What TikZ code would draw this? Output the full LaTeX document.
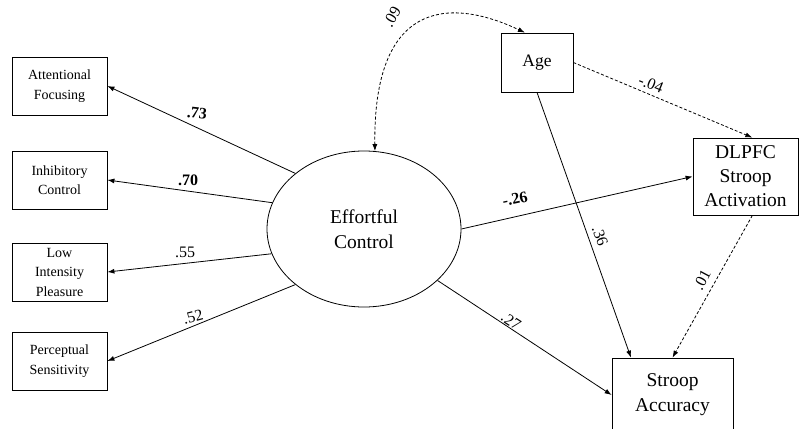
\documentclass[tikz,border=0pt]{standalone}
\usepackage{fontspec}
\setmainfont{Liberation Serif}
\usetikzlibrary{arrows.meta,shapes.geometric}
\begin{document}
\begin{tikzpicture}[x=1pt,y=-1pt,
  smallbox/.style={draw,line width=0.8pt,rectangle,minimum width=95pt,minimum height=58pt,inner sep=0pt,align=center,font=\fontsize{14}{19.5}\selectfont},
  bigbox/.style={draw,line width=0.8pt,rectangle,inner sep=0pt,align=center,font=\fontsize{19.5}{25}\selectfont},
  arr/.style={line width=0.8pt,-{Latex[length=7pt,width=5pt]}},
  dblarr/.style={line width=0.8pt,{Latex[length=7pt,width=5pt]}-{Latex[length=7pt,width=5pt]}},
  dsh/.style={dash pattern=on 3pt off 2pt},
  coef/.style={font=\fontsize{16}{16}\selectfont\bfseries,inner sep=0pt},
  coefr/.style={font=\fontsize{16}{16}\selectfont,inner sep=0pt}]
\useasboundingbox (0,0) rectangle (799,428);

\node[smallbox] (AF) at (59.5,86) {Attentional\\Focusing};
\node[smallbox] (IC) at (59.5,180) {Inhibitory\\Control};
\node[smallbox] (LIP) at (59.5,272) {Low\\Intensity\\Pleasure};
\node[smallbox] (PS) at (59.5,361) {Perceptual\\Sensitivity};

\node[draw,line width=0.8pt,ellipse,minimum width=194pt,minimum height=156pt,inner sep=0pt,align=center,font=\fontsize{19.5}{25}\selectfont] (EC) at (364,229) {Effortful\\Control};

\node[bigbox,minimum width=72pt,minimum height=59pt,font=\fontsize{17.5}{22}\selectfont] (Age) at (537,62.5) {Age};
\node[bigbox,minimum width=105pt,minimum height=77pt,font=\fontsize{19.5}{24}\selectfont] (DL) at (745.5,176.5) {DLPFC\\Stroop\\Activation};
\node[bigbox,minimum width=121pt,minimum height=74pt] (SA) at (672.5,395) {Stroop\\Accuracy};

\draw[arr] (EC.141) -- (AF.east);
\draw[arr] (EC.164.5) -- (IC.east);
\draw[arr] (EC.195) -- (LIP.east);
\draw[arr] (EC.219) -- (PS.east);
\draw[arr] (EC.0) -- (DL.west);
\draw[arr] (EC.-35) -- (SA.west);
\draw[arr] (Age.south) -- (SA.138);
\draw[arr,dsh] (Age.east) -- (DL.80);
\draw[arr,dsh] (DL.-80) -- (SA.north);
\draw[dblarr,dsh] (EC.82) .. controls (373,5) and (445,-5) .. (Age.112);

\node[coef,rotate=-6] (l73) at (197,113) {.73};
\node[coef] (l70) at (188,180) {.70};
\node[coefr] (l55) at (185,252) {.55};
\node[coefr,rotate=15] (l52) at (193,317) {.52};
\node[coefr,rotate=60] (l09) at (392,17) {.09};
\node[coefr,rotate=-22] (l04) at (651,84) {-.04};
\node[coefr,rotate=-70] (l36) at (600,236) {.36};
\node[coef,rotate=12] (l26) at (515,199) {-.26};
\node[coefr,rotate=-33] (l27) at (511,321) {.27};
\node[coefr,rotate=62] (l01) at (702,280) {.01};
\end{tikzpicture}
\end{document}
